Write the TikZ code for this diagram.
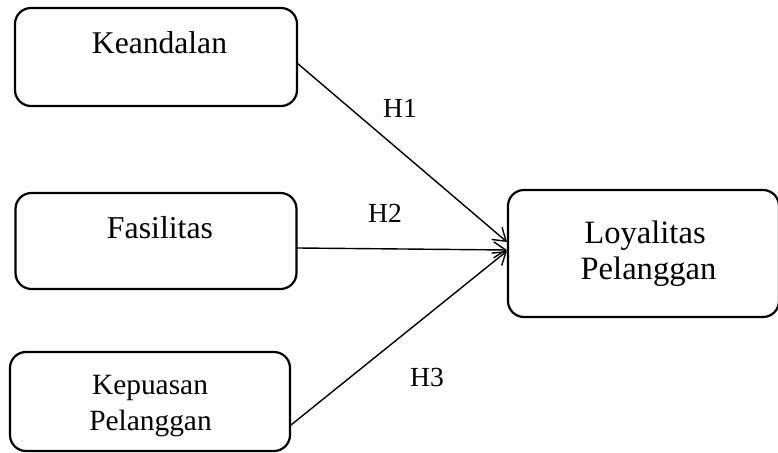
\documentclass[tikz,border=0pt]{standalone}
\usepackage{fontspec}
\setmainfont{Liberation Serif}
\usetikzlibrary{arrows.meta}
\tikzset{
  box/.style={draw, line width=1.1pt, rounded corners=8pt, inner sep=0pt, outer sep=0pt},
  txt/.style={anchor=base, inner sep=0pt},
  conn/.style={line width=0.7pt, -{Straight Barb[length=6pt,width=8pt,line width=0.7pt]}}
}
\begin{document}
\begin{tikzpicture}[x=0.5pt,y=-0.5pt]
\useasboundingbox (0,0) rectangle (778,453);
% boxes
\node[box, minimum width=141pt, minimum height=49pt] (kean) at (156,57) {};
\node[box, minimum width=140.5pt, minimum height=48pt] (fas) at (156,241) {};
\node[box, minimum width=140pt, minimum height=49.5pt] (kep) at (150,401.5) {};
\node[box, minimum width=135.5pt, minimum height=63.5pt] (loy) at (643.5,253.5) {};
% texts
\node[txt, font=\fontsize{15.8pt}{19pt}\selectfont] (tkean) at (159.5,54) {Keandalan};
\node[txt, font=\fontsize{15.9pt}{19pt}\selectfont] (tfas) at (160,239) {Fasilitas};
\node[txt, font=\fontsize{14.7pt}{18pt}\selectfont] (tkep1) at (150,395) {Kepuasan};
\node[txt, font=\fontsize{14.7pt}{18pt}\selectfont] (tkep2) at (150.5,431) {Pelanggan};
\node[txt, font=\fontsize{16.3pt}{19pt}\selectfont] (tloy1) at (645,244) {Loyalitas};
\node[txt, font=\fontsize{16.3pt}{19pt}\selectfont] (tloy2) at (648.5,280) {Pelanggan};
% labels
\node[txt, font=\fontsize{13.8pt}{16pt}\selectfont] (h1) at (400,118) {H1};
\node[txt, font=\fontsize{13.8pt}{16pt}\selectfont] (h2) at (385,223) {H2};
\node[txt, font=\fontsize{13.8pt}{16pt}\selectfont] (h3) at (427,387) {H3};
% connector endpoints
\coordinate (ks) at (297,63);
\coordinate (fs) at (297,248);
\coordinate (ps) at (291,425);
\coordinate (ke) at (507,242);
\coordinate (fe) at (507,250);
\coordinate (pe) at (507,251);
\draw[conn] (ks) -- (ke);
\draw[conn] (fs) -- (fe);
\draw[conn] (ps) -- (pe);
\end{tikzpicture}
\end{document}
